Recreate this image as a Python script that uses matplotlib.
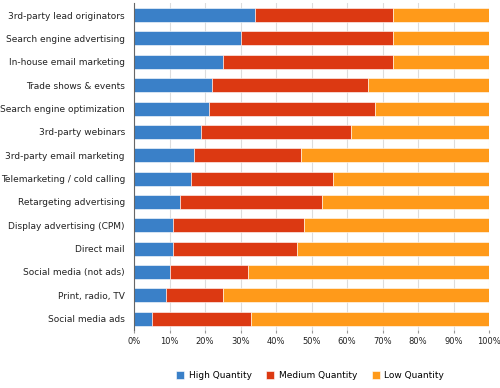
import numpy as np
import matplotlib
matplotlib.use("Agg")
import matplotlib.pyplot as plt

# data (percent of respondents)
channels = ["3rd-party lead originators", "Search engine advertising",
            "In-house email marketing", "Trade shows & events",
            "Search engine optimization", "3rd-party webinars",
            "3rd-party email marketing", "Telemarketing / cold calling",
            "Retargeting advertising", "Display advertising (CPM)",
            "Direct mail", "Social media (not ads)", "Print, radio, TV",
            "Social media ads"]
high = [34, 30, 25, 22, 21, 19, 17, 16, 13, 11, 11, 10, 9, 5]
medium = [39, 43, 48, 44, 47, 42, 30, 40, 40, 37, 35, 22, 16, 28]
low = [27, 27, 27, 34, 32, 39, 53, 44, 47, 52, 54, 68, 75, 67]

series = ["High Quantity", "Medium Quantity", "Low Quantity"]
colors = ["#3a80c8", "#dc3912", "#ff9a1a"]

fig = plt.figure(figsize=(5, 3.88), dpi=100)
ax = fig.add_axes([0.268, 0.149, 0.71, 0.842])

y = np.arange(len(channels))
left = np.zeros(len(channels))
for vals, name, c in zip([high, medium, low], series, colors):
    ax.barh(y, vals, left=left, height=0.6, color=c, label=name,
            edgecolor="white", linewidth=0.4, zorder=3)
    left += np.array(vals)

ax.set_xlim(0, 100)
ax.set_ylim(len(channels) - 0.5, -0.5)
ax.set_yticks(y)
ax.set_yticklabels(channels, fontsize=6.5, color="#222222")
ax.set_xticks(np.arange(0, 101, 10))
ax.set_xticklabels([f"{v}%" for v in range(0, 101, 10)], fontsize=6, color="#222222")
ax.tick_params(axis="y", length=0, pad=6.5)
ax.tick_params(axis="x", length=2, color="#999999", pad=3)
ax.grid(axis="x", color="#dddddd", linewidth=0.8, zorder=0)
for s in ["top", "right", "bottom"]:
    ax.spines[s].set_visible(False)
ax.spines["left"].set_color("#666666")
ax.spines["left"].set_zorder(4)

fig.legend(loc="lower center", bbox_to_anchor=(0.62, 0.0), ncol=3, frameon=False,
           fontsize=6.5, handlelength=0.9, handleheight=0.9, columnspacing=1.6,
           handletextpad=0.5)

fig.savefig("out.png", dpi=100)
